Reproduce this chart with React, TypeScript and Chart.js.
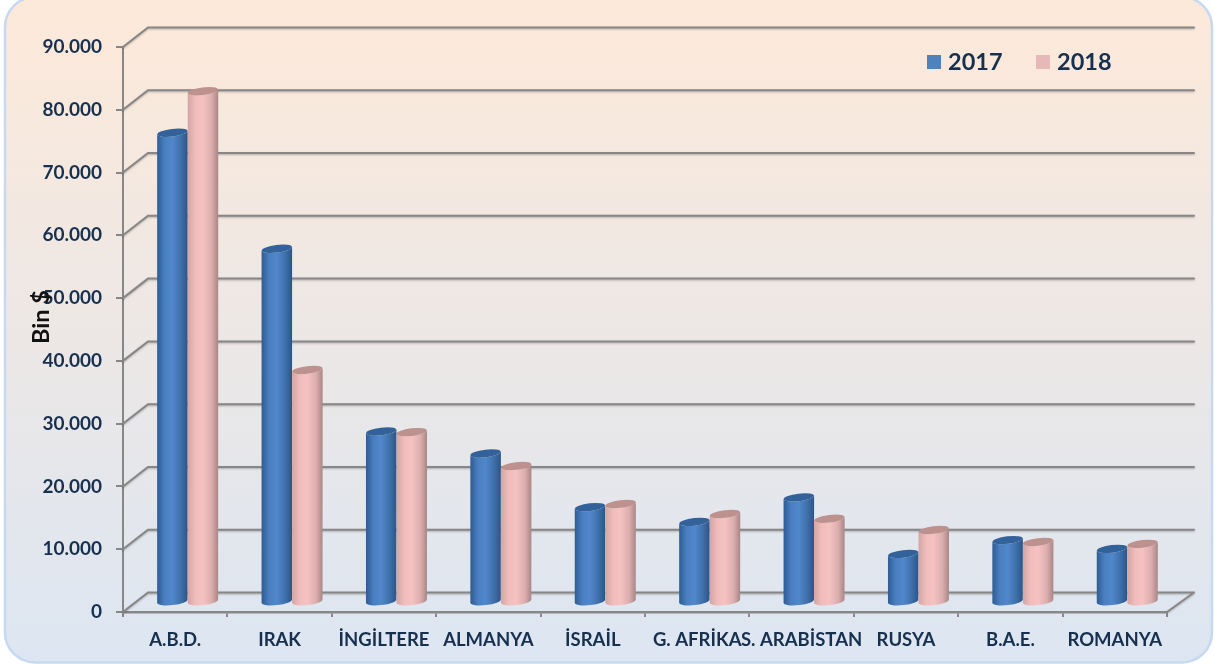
import React, { useEffect, useRef } from "react";
import { Chart, registerables } from "chart.js";

Chart.register(...registerables);

const categories = ["A.B.D.", "IRAK", "İNGİLTERE", "ALMANYA", "İSRAİL", "G. AFRİKA", "S. ARABİSTAN", "RUSYA", "B.A.E.", "ROMANYA"];
const values2017 = [74800, 56300, 27200, 23700, 15150, 12800, 16700, 7700, 9900, 8500];
const values2018 = [81400, 37000, 27100, 21700, 15650, 14050, 13300, 11500, 9600, 9300];
const seriesLabels = ["2017", "2018"];
const axisTitle = "Bin $";

const TEXT = "#17304F";
const GRID = "#878787";
const DEPTH_X = 25;
const DEPTH_Y = 19.5;
const BAR_SHIFT_X = 12.5;
const BAR_SHIFT_Y = 9.75;
const TILT = -0.12;

const PALETTES = [
  { solid: "#4F81BD", stops: ["#2E5C94", "#4A7FC0", "#5088CC", "#3F6FA9", "#2B5586"], top: "#33629A" },
  { solid: "#E6B9B8", stops: ["#D3A5A5", "#F0BCBC", "#F5C1C1", "#DDAEAE", "#A98686"], top: "#BD918E" },
];

const backgroundPlugin = {
  id: "panel",
  beforeDraw(chart: any) {
    const { ctx, width, height } = chart;
    ctx.save();
    ctx.fillStyle = "#FFFFFF";
    ctx.fillRect(0, 0, width, height);
    const g = ctx.createLinearGradient(0, 0, 0, height);
    g.addColorStop(0, "#FDE9D9");
    g.addColorStop(1, "#DCE6F2");
    ctx.beginPath();
    ctx.roundRect(5, -3, width - 8, height - 0.5, 30);
    ctx.fillStyle = g;
    ctx.fill();
    ctx.lineWidth = 2.5;
    ctx.strokeStyle = "#C6D9F1";
    ctx.stroke();
    ctx.restore();
  },
};

const wallPlugin = {
  id: "wall",
  beforeDatasetsDraw(chart: any) {
    const { ctx, chartArea: a, scales } = chart;
    const y = scales.y;
    ctx.save();
    ctx.strokeStyle = GRID;
    ctx.lineWidth = 2;
    ctx.lineCap = "round";
    ctx.shadowColor = "rgba(0,0,0,0.25)";
    ctx.shadowBlur = 2;
    ctx.shadowOffsetY = 1;
    ctx.beginPath();
    y.ticks.forEach((t: any) => {
      const py = y.getPixelForValue(t.value);
      ctx.moveTo(a.left, py);
      ctx.lineTo(a.left + DEPTH_X, py - DEPTH_Y);
      ctx.lineTo(a.right + DEPTH_X + 2, py - DEPTH_Y);
    });
    ctx.moveTo(a.right, a.bottom);
    ctx.lineTo(a.right + DEPTH_X + 2, a.bottom - DEPTH_Y);
    ctx.stroke();
    ctx.restore();
  },
};

const cylinderPlugin = {
  id: "cylinders",
  beforeDatasetDraw() {
    return false;
  },
  afterDatasetsDraw(chart: any) {
    const { ctx } = chart;
    const count = chart.data.datasets.length;
    for (let d = 0; d < count; d++) {
      const pal = PALETTES[d];
      chart.getDatasetMeta(d).data.forEach((el: any) => {
        const cx = el.x + BAR_SHIFT_X;
        const top = el.y - BAR_SHIFT_Y;
        const base = el.base - BAR_SHIFT_Y;
        const rx = el.width / 2;
        const ry = 3.8;
        const g = ctx.createLinearGradient(cx - rx, 0, cx + rx, 0);
        [0, 0.25, 0.5, 0.78, 1].forEach((p, i) => g.addColorStop(p, pal.stops[i]));
        const dy = Math.sin(TILT) * rx;
        ctx.save();
        ctx.beginPath();
        ctx.moveTo(cx - rx, top - dy);
        ctx.lineTo(cx - rx, base - dy);
        ctx.ellipse(cx, base, rx, ry, TILT, Math.PI, 0, true);
        ctx.lineTo(cx + rx, top + dy);
        ctx.ellipse(cx, top, rx, ry, TILT, 0, Math.PI, false);
        ctx.closePath();
        ctx.fillStyle = g;
        ctx.fill();
        ctx.beginPath();
        ctx.ellipse(cx, top, rx, ry, TILT, 0, Math.PI * 2);
        ctx.fillStyle = pal.top;
        ctx.fill();
        ctx.restore();
      });
    }
  },
};

const labelsPlugin = {
  id: "overlayText",
  afterDraw(chart: any) {
    const { ctx } = chart;
    ctx.save();
    // axis title
    ctx.save();
    ctx.translate(41, 317);
    ctx.rotate(-Math.PI / 2);
    ctx.font = "bold 23.5px Lato";
    ctx.fillStyle = "#111111";
    ctx.textAlign = "center";
    ctx.textBaseline = "middle";
    ctx.fillText(axisTitle, 0, 0);
    ctx.restore();
    // legend
    const boxX = [927, 1036];
    ctx.font = "bold 23.5px Lato";
    ctx.textAlign = "left";
    ctx.textBaseline = "middle";
    chart.data.datasets.forEach((ds: any, i: number) => {
      ctx.fillStyle = ds.backgroundColor;
      ctx.fillRect(boxX[i], 55, 14, 14);
      ctx.fillStyle = TEXT;
      ctx.fillText(ds.label, boxX[i] + 21, 62);
    });
    ctx.restore();
  },
};

export default function App() {
  const ref = useRef<HTMLCanvasElement | null>(null);
  useEffect(() => {
    const chart = new Chart(ref.current as HTMLCanvasElement, {
      type: "bar",
      data: {
        labels: categories,
        datasets: [
          { label: seriesLabels[0], data: values2017, backgroundColor: PALETTES[0].solid },
          { label: seriesLabels[1], data: values2018, backgroundColor: PALETTES[1].solid },
        ],
      },
      plugins: [backgroundPlugin, wallPlugin, cylinderPlugin, labelsPlugin],
      options: {
        responsive: false,
        animation: false,
        layout: { padding: { top: 47, right: 48, left: 0, bottom: 0 } },
        datasets: { bar: { categoryPercentage: 0.585, barPercentage: 1 } },
        plugins: { legend: { display: false }, title: { display: false }, tooltip: { enabled: false } },
        scales: {
          x: {
            afterFit(s: any) {
              s.height = 54;
            },
            grid: { drawOnChartArea: false, drawTicks: true, tickLength: 5, color: GRID, lineWidth: 2 },
            border: { display: true, color: GRID, width: 2.5 },
            ticks: {
              autoSkip: false,
              maxRotation: 0,
              minRotation: 0,
              padding: 12,
              color: TEXT,
              font: { family: "Lato", weight: "bold", size: 18.5 },
            },
          },
          y: {
            min: 0,
            max: 90000,
            afterFit(s: any) {
              s.width = 123;
            },
            grid: { drawOnChartArea: false, drawTicks: true, tickLength: 7, color: GRID, lineWidth: 2 },
            border: { display: true, color: GRID, width: 2 },
            ticks: {
              stepSize: 10000,
              padding: 14,
              color: TEXT,
              font: { family: "Lato", weight: "bold", size: 19 },
              callback: (v: any) => String(v).replace(/\B(?=(\d{3})+$)/g, "."),
            },
          },
        },
      },
    } as any);
    return () => chart.destroy();
  }, []);
  return (
    <canvas
      ref={ref}
      width={1215}
      height={666}
      style={{ position: "absolute", left: 0, top: 0, display: "block", width: 1215, height: 666 }}
    />
  );
}
